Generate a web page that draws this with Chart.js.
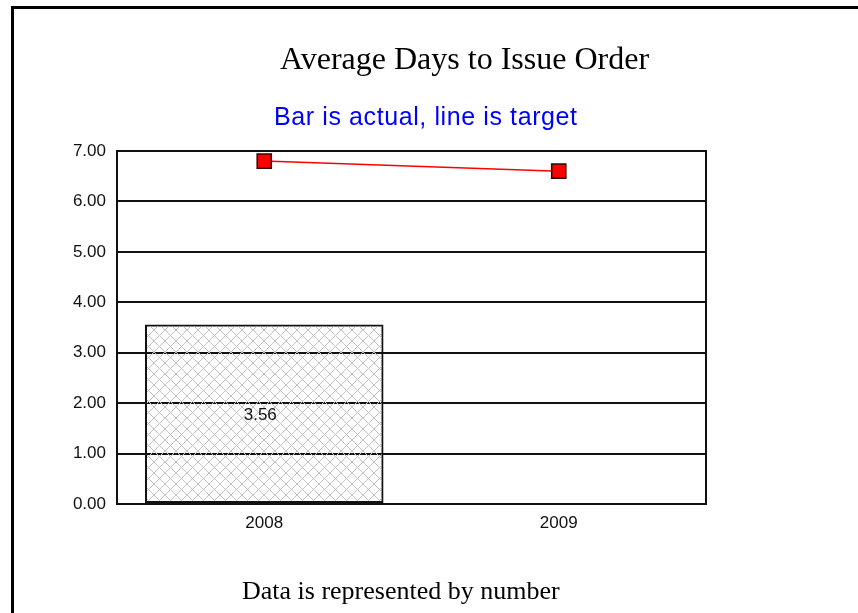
<!DOCTYPE html>
<html>
<head>
<meta charset="utf-8">
<script src="https://cdn.jsdelivr.net/npm/chart.js@4"></script>
<style>
  html, body { margin: 0; padding: 0; background: #fff; }
  body { width: 858px; height: 613px; position: relative; overflow: hidden; }
  #frame { position: absolute; left: 11px; top: 6px; width: 900px; height: 700px;
           border-left: 3px solid #000; border-top: 3px solid #000; }
  canvas { position: absolute; left: 0; top: 0; }
  .txt { position: absolute; white-space: nowrap; line-height: 1; }
  #title { left: 280px; top: 40px; font: 32px "Liberation Serif", serif; color: #000; }
  #sub { left: 274px; top: 102px; font: 25px "Liberation Sans", Arial, sans-serif; color: #0000ff; letter-spacing: 0.6px; }
  #foot { left: 242px; top: 576px; font: 26px "Liberation Serif", serif; color: #000; }
</style>
</head>
<body>
<div id="frame"></div>
<canvas id="chart" width="858" height="613"></canvas>
<div class="txt" id="title">Average Days to Issue Order</div>
<div class="txt" id="sub">Bar is actual, line is target</div>
<div class="txt" id="foot">Data is represented by number</div>
<script>
const years = ["2008", "2009"];
const actual = [3.56, null];
const target = [6.8, 6.6];
const yTicks = [0, 1, 2, 3, 4, 5, 6, 7];

// crosshatch fill for the bar
function hatch() {
  const c = document.createElement("canvas");
  c.width = 11; c.height = 11;
  const g = c.getContext("2d");
  g.strokeStyle = "#c4c4c4";
  g.lineWidth = 1;
  g.beginPath();
  g.moveTo(0, 0); g.lineTo(11, 11);
  g.moveTo(11, 0); g.lineTo(0, 11);
  g.stroke();
  return g.createPattern(c, "repeat");
}

const framePlugin = {
  id: "frame",
  afterDraw(chart) {
    const a = chart.chartArea, ctx = chart.ctx;
    ctx.save();
    ctx.strokeStyle = "#111";
    ctx.lineWidth = 2;
    ctx.strokeRect(a.left, a.top, a.right - a.left, a.bottom - a.top);
    // value label on the bar
    const meta = chart.getDatasetMeta(0);
    ctx.fillStyle = "#111";
    ctx.font = '17px "Liberation Sans", Arial, sans-serif';
    ctx.textAlign = "center";
    ctx.textBaseline = "middle";
    meta.data.forEach((bar, i) => {
      if (actual[i] == null) return;
      ctx.fillText(actual[i].toFixed(2), bar.x - 4, (bar.y + bar.base) / 2 + 2);
    });
    ctx.restore();
  }
};

new Chart(document.getElementById("chart"), {
  data: {
    labels: years,
    datasets: [
      {
        type: "bar",
        data: actual,
        backgroundColor: hatch(),
        borderColor: "#111",
        borderWidth: 2,
        borderSkipped: false,
        barPercentage: 0.81,
        categoryPercentage: 1,
        order: 2
      },
      {
        type: "line",
        data: target,
        borderColor: "#ff0000",
        borderWidth: 1.5,
        pointStyle: "rect",
        pointRadius: 10,
        pointBackgroundColor: "#ff0000",
        pointBorderColor: "#3a0000",
        pointBorderWidth: 1.5,
        tension: 0,
        order: 1
      }
    ]
  },
  options: {
    responsive: false,
    animation: false,
    layout: { padding: { left: 0, right: 152, top: 151, bottom: 0 } },
    plugins: { legend: { display: false }, tooltip: { enabled: false } },
    scales: {
      x: {
        grid: { display: false, drawTicks: false },
        border: { display: false },
        ticks: { color: "#111", padding: 9, font: { family: "Liberation Sans", size: 17 } },
        afterFit: s => { s.height = 109; }
      },
      y: {
        min: 0,
        max: 7,
        afterBuildTicks: s => { s.ticks = yTicks.map(v => ({ value: v })); },
        grid: { color: "#111", lineWidth: 2, drawTicks: false },
        border: { display: false },
        ticks: {
          color: "#111",
          padding: 11,
          font: { family: "Liberation Sans", size: 17 },
          callback: v => Number(v).toFixed(2)
        },
        afterFit: s => { s.width = 117; }
      }
    }
  },
  plugins: [framePlugin]
});
</script>
</body>
</html>
